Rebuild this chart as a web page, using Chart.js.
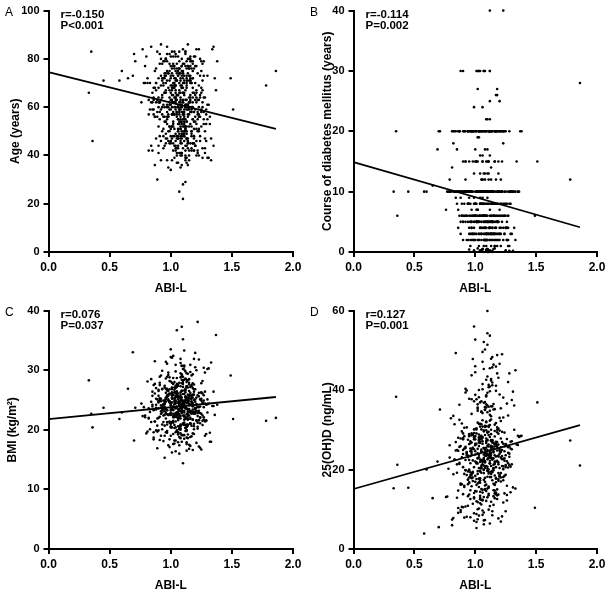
<!DOCTYPE html>
<html>
<head>
<meta charset="utf-8">
<script src="https://cdn.jsdelivr.net/npm/chart.js@4.4.1/dist/chart.umd.min.js"></script>
<style>
  body { margin: 0; background: #fff; width: 609px; height: 597px; overflow: hidden; position: relative; }
  canvas { position: absolute; }
</style>
</head>
<body>
<canvas id="cA" width="305" height="300" style="left:0;top:0"></canvas>
<canvas id="cB" width="304" height="300" style="left:305px;top:0"></canvas>
<canvas id="cC" width="305" height="297" style="left:0;top:300px"></canvas>
<canvas id="cD" width="304" height="297" style="left:305px;top:300px"></canvas>
<script>
// -------------------------------------------------------------------
// Data (one entry per patient, same order in every array)
// -------------------------------------------------------------------
const abiL = [
  0.33,0.35,0.36,0.45,0.58,0.60,0.65,0.69,0.70,0.71,1.49,1.51,1.78,1.86,
  1.08,0.97,1.12,1.03,1.21,0.91,1.15,1.06,0.99,1.27,1.10,0.88,1.04,1.18,1.13,0.95,1.09,1.23,1.01,0.84,
  1.07,1.16,0.93,1.11,1.02,1.30,0.98,1.14,1.05,0.90,1.19,1.08,1.25,0.96,1.12,1.00,1.17,0.86,1.10,1.06,
  1.22,0.94,1.03,1.13,0.81,1.09,1.15,0.99,1.20,1.04,1.11,0.92,1.07,1.28,1.01,1.16,0.97,1.12,1.05,1.34,
  0.89,1.10,1.18,1.02,1.24,0.95,1.08,1.14,0.78,1.06,1.21,1.00,1.13,0.93,1.09,1.17,1.04,1.26,0.98,1.11,
  1.15,0.87,1.05,1.19,1.03,1.12,0.96,1.32,1.07,1.10,0.91,1.16,1.01,1.23,1.08,0.99,1.14,0.85,1.06,1.20,
  1.09,1.02,1.27,0.94,1.13,1.05,1.18,0.97,1.11,1.00,1.22,0.90,1.08,1.15,1.04,1.29,0.96,1.12,1.07,0.82,
  1.17,1.03,0.93,1.10,1.25,1.06,0.99,1.14,1.01,1.20,0.88,1.09,1.16,1.05,0.95,1.12,1.36,1.02,1.08,1.19,
  0.98,1.13,1.04,0.86,1.11,1.23,1.07,0.92,1.15,1.00,1.10,1.28,0.97,1.06,1.18,1.03,0.80,1.14,1.09,1.21,
  1.05,0.95,1.12,1.17,1.01,1.26,0.91,1.08,1.13,0.99,1.24,1.04,1.10,0.87,1.16,1.07,1.31,0.96,1.11,1.02,
  1.19,1.06,0.94,1.14,1.09,0.83,1.21,1.03,1.12,0.98,1.15,1.00,1.27,1.08,0.90,1.13,1.05,1.18,0.97,1.10,
  1.04,1.22,0.93,1.11,1.07,1.16,0.89,1.02,1.25,1.09,0.96,1.14,1.01,1.20,1.06,0.85,1.12,1.33,0.99,1.08,
  1.15,1.03,0.92,1.17,1.10,1.05,1.29,0.98,1.13,0.76,1.08,1.19,1.00,1.23,0.94,1.11,1.06,1.16,1.02,0.88,
  1.12,0.97,1.09,1.24,1.04,1.14,0.91,1.07,1.18,1.01,1.30,0.95,1.10,1.05,1.21,0.86,1.13,1.08,0.99,1.26,
  1.06,1.17,0.93,1.11,1.02,1.15,1.38,0.97,1.09,1.20,1.04,0.90,1.13,1.07,1.28,0.98,1.16,1.01,1.22,0.84,
  1.10,1.03,1.19,0.95,1.08,1.14,1.00,1.25,0.92,1.12,1.05,1.17,0.87,1.09,1.23,1.02,1.15,0.96,1.11,1.35,
  1.07,0.99,1.13,1.04,1.21,0.89,1.16,1.06,1.10,0.94,1.27,1.01,1.18,1.08,0.79,1.12,1.03,1.20,0.97,1.14,
  1.05,1.24,0.91,1.09,1.15,1.00,1.32,1.11,0.96,1.07,1.19,1.02,0.85,1.13,1.26,1.04,1.10,0.93,1.17,1.08,
  1.22,0.98,1.12,1.06,0.88,1.16,1.03,1.29,1.09,0.95,1.14,1.01,1.21,1.07,0.90,1.11,1.18,1.05,0.82,1.13,
  1.00,1.25,1.08,0.94,1.15,1.04,1.19,0.97,1.10,1.37,1.06,0.92,1.13,1.02,1.23,1.09,0.86,1.17,1.03,1.12,
  1.07,0.99,1.20,1.05,1.14,0.91,1.28,1.10,1.01,1.16,0.96,1.08,1.24,1.04,0.89,1.11,1.18,1.06,0.77,1.15,
  1.03,1.14,0.96,1.09,1.21,1.00,1.12,0.87,1.17,1.06,1.25,0.93,1.10,1.02,1.19,1.08,0.98,1.30,1.05,1.13,
  0.92,1.11,1.04,1.18,1.07,0.99,1.23,1.13,0.84,1.09,1.16,1.01,1.27,1.06,0.95,1.12,1.20,1.03,1.10,0.90,
  1.15,1.05,1.22,0.97,1.08,1.13,0.89,1.18,1.02,1.11,0.94,1.26,1.07,1.00,1.16,1.09,0.81,1.14,1.04,1.21,
  1.10,0.95,1.17,1.06,1.31,1.01,1.12,0.91,1.19,1.04,1.08,1.24,0.98,1.14,1.03,0.86,1.11,1.07,1.28,0.99,
  1.06,1.20,1.02,1.13,0.93,1.09,1.16,1.00,1.23,1.05,0.88,1.11,1.18,0.97,1.08,1.33,1.04,1.15,0.92,1.12,
  1.01,1.09,1.26,0.96,1.14,1.07,1.19,0.83,1.11,1.03,1.22,1.10,0.99,1.16,1.05,0.94,1.13,1.08,1.29,1.00,
  1.18,1.04,0.90,1.12,1.07,1.24,0.98,1.15,1.02,1.10,0.87,1.20,1.06,1.13,0.95,1.09,1.17,1.01,0.79,1.14,
  1.08,0.97,1.13,1.21,1.04,1.11,0.92,1.16,1.06,1.27,1.00,1.09,0.85,1.14,1.19,1.03,1.12,0.96,1.23,1.07,
  1.12,1.02,1.17,0.94,1.10,1.05,1.30,0.99,1.15,1.08,1.20,0.90,1.13,1.04,1.25,1.11,0.97,1.06,1.18,1.35,
  0.96,1.14,1.07,1.01,1.22,1.09,0.88,1.16,1.03,1.12,0.95,1.19,1.05,1.10,0.82,1.26,1.00,1.13,1.08,1.17
];

const ageYears = [
  66,83,46,71,71,75,72,73,82,79,72,59,69,75,
  62,71,55,48,66,58,73,60,52,64,57,76,63,45,69,54,61,50,67,44,
  59,65,78,53,70,61,56,47,74,62,58,51,68,80,60,66,43,57,72,55,
  63,69,57,76,72,49,60,64,54,81,59,73,66,47,52,62,85,40,58,84,
  30,63,55,68,48,74,56,61,70,53,67,59,39,65,77,50,62,71,46,58,
  64,56,71,45,60,52,67,53,79,62,48,70,57,63,35,75,59,66,51,44,
  58,65,53,61,72,47,60,82,55,69,42,64,51,76,60,57,54,38,67,63,
  49,62,57,68,59,73,45,56,63,70,62,54,80,58,66,29,72,52,61,47,
  60,54,66,63,48,57,70,86,62,51,74,43,58,65,55,77,81,60,41,64,
  56,72,61,52,68,62,55,64,50,59,73,46,66,75,58,53,61,49,70,57,
  66,60,51,57,75,59,53,69,63,56,38,72,58,48,68,61,78,62,55,52,
  64,57,60,49,62,71,58,54,66,60,47,74,65,56,43,62,67,38,71,59,
  52,76,63,60,57,65,59,50,79,62,66,54,61,69,56,73,48,63,58,70,
  60,53,68,56,72,46,62,57,64,83,55,60,28,65,51,59,70,54,62,67,
  61,58,71,65,53,60,79,56,47,63,67,52,59,74,64,57,45,69,55,62,
  22,64,58,66,55,61,73,52,59,77,63,50,56,68,60,45,62,70,57,85,
  25,67,54,59,62,56,71,65,58,48,55,60,68,63,77,52,70,59,61,36,
  57,65,62,53,60,77,56,66,73,58,51,62,59,47,60,69,55,64,42,72,
  58,74,61,50,67,64,57,53,69,56,86,62,46,59,60,54,66,71,57,63,
  63,58,52,70,57,64,48,60,66,67,55,80,61,73,56,50,64,59,68,44,
  54,61,65,58,71,78,50,62,57,53,66,60,64,69,63,56,72,47,84,59,
  72,45,80,41,77,48,83,36,70,44,79,50,74,42,81,47,68,39,76,52,
  46,78,43,75,49,82,40,71,85,45,73,38,79,47,66,42,77,51,84,44,
  80,41,74,47,69,37,83,45,78,50,72,43,76,34,81,48,70,46,75,40,
  43,79,48,73,39,76,51,82,42,71,46,80,35,77,44,68,50,74,41,78,
  75,44,81,49,72,40,77,46,84,43,70,52,79,38,74,47,82,42,69,50,
  47,73,39,80,45,76,42,70,48,83,41,75,50,72,37,79,44,71,46,81,
  78,42,72,51,83,46,74,40,77,49,68,44,81,47,73,36,76,52,70,43,
  41,75,47,84,44,71,38,79,50,73,45,77,42,80,48,69,39,74,51,76,
  82,48,70,43,78,40,73,52,76,45,81,41,68,49,75,46,79,37,72,44,
  45,77,41,74,50,80,47,71,39,83,44,76,48,70,42,78,46,73,40,79
];

const diabetesCourse = [
  10,20,6,10,10,10,11,17,20,20,6,15,12,28,
  5,10,40,3,8,20,0.5,6,2,10,13,30,20,1,5,8,0.2,4,10,20,
  2,6,10,20,5,3,15,0,8,30,10,4,20,6,3,17,2,10,9,0.5,
  10,5,30,2,14,20,6,0.3,3,8,10,12,1,10,5,20,7,30,4,15,
  8,3,20,5,6,0.4,10,2,10,24,4,8,20,6,1,12,10,5,3,0,
  10,6,3,15,20,7,2,4,5,22,10,0.6,8,40,3,13,20,17,6,2,
  4,10,1,20,8,5,27,6,0.2,3,10,2,20,5,9,10,8,16,0,18,
  6,2,10,8,0.3,15,20,3,5,10,9,6,1,20,4,25,10,7,2,5,
  20,10,4,7,3,6,10,15,2,8,0.5,20,5,12,10,30,10,4,6,1,
  10,3,6,20,5,8,20,2,10,24,3,13,0,20,4,5,0.2,10,15,6,
  3,20,8,5,10,10,20,1,4,6,10,2,6,17,5,3,20,8,10,0.4,
  30,5,2,12,8,3,6,10,10,22,5,20,3,7,16,10,5,2,9,10,
  6,20,5,26,3,0.3,8,10,20,7,4,10,6,2,8,15,10,5,19,3,
  10,4,3,20,6,8,10,2,5,15,10,9,6,0.1,10,20,3,12,5,2,
  8,20,6,5,27,10,20,4,2,6,10,5,3,8,0.2,20,15,6,10,9,
  5,10,2,15,20,4,6,8,10,30,3,10,20,5,18,2,6,1,20,10,
  13,5,8,10,20,6,3,0.4,10,8,2,20,26,6,12,4,19,10,3,5,
  2,8,10,15,6,20,10,3,5,10,13,0.6,8,20,4,6,17,10,2,13,
  15,6,20,10,5,8,2,3,20,10,0.2,5,12,30,6,10,3,8,20,6,
  10,4,6,20,3,10,8,5,2,20,15,6,10,30,20,8,4,5,6,22,
  3,8,25,20,10,6,1,5,10,15,20,2,6,4,10,8,20,0.5,10,3,
  5,10,20,2,8,6,0.3,20,3,10,4,10,15,5,20,8,2,10,6,1,
  20,4,10,6,30,3,8,12,10,5,2,20,6,9,10,20,3,5,0.5,10,
  8,3,10,20,5,14,10,2,7,20,10,4,6,15,1,10,20,5,8,3,
  10,6,4,20,10,5,2,8,10,16,6,3,20,10,5,10,20,4,8,2,
  4,20,10,5,10,3,8,6,20,0.2,10,13,5,20,2,10,6,10,15,5,
  30,6,2,10,5,20,10,20,8,3,6,10,4,20,10,2,5,30,10,8,
  5,10,20,4,6,10,3,8,15,2,10,20,6,10,20,0.4,4,7,10,10,
  10,20,3,6,8,5,10,20,12,4,6,2,10,8,5,20,10,3,20,6,
  2,10,8,20,5,12,10,6,3,20,4,15,10,0.3,6,10,2,8,5,10,
  10,5,6,15,20,3,10,8,20,4,10,6,5,10,10,2,20,6,4,20
];

const bmi = [
  28.3,22.7,20.4,23.7,21.8,22.9,26.9,33.0,18.2,23.7,29.1,21.8,21.5,22.0,
  24.1,22.6,26.3,20.8,25.4,27.9,23.2,19.6,24.8,22.1,30.2,23.7,21.4,25.9,18.7,24.5,28.4,22.9,26.1,21.3,
  23.5,27.2,20.9,24.6,22.3,25.1,29.6,21.8,23.9,26.7,19.3,24.2,22.7,31.4,25.6,20.4,23.1,27.5,24.9,21.6,
  25.8,22.4,24.3,17.9,28.1,23.6,26.5,21.2,24.7,22.8,33.3,25.2,20.1,24.4,27.0,23.0,19.8,25.5,22.5,24.0,
  21.9,26.0,23.4,28.7,22.0,24.9,20.6,25.3,23.8,27.4,21.5,24.1,16.5,26.8,23.3,29.1,22.2,24.6,25.7,19.1,
  24.3,27.7,22.9,25.0,20.3,23.7,26.2,18.0,24.5,22.4,28.9,21.1,25.4,23.2,31.9,24.8,20.7,26.4,22.6,25.1,
  23.0,25.9,21.7,24.2,27.3,22.1,23.9,19.5,26.6,24.4,22.8,25.7,20.2,23.5,29.8,21.6,24.7,26.9,17.4,23.6,
  25.5,22.3,24.0,20.9,26.3,23.4,28.2,21.9,24.6,22.7,25.2,30.8,23.1,19.9,24.3,26.7,22.5,25.8,23.7,21.0,
  24.9,20.5,26.1,23.3,22.2,25.6,18.8,24.1,27.6,22.9,23.8,26.4,21.3,24.5,29.3,22.6,19.4,25.0,23.6,24.2,
  26.2,23.1,21.8,24.8,27.9,22.4,25.3,20.0,23.5,26.8,22.1,24.7,35.2,21.4,25.9,23.2,24.4,28.6,20.8,23.9,
  22.7,25.1,24.3,19.2,26.5,23.0,21.6,27.1,24.0,22.5,25.7,20.6,23.8,26.3,24.6,17.6,22.9,25.4,23.3,28.0,
  23.6,21.2,26.9,24.5,22.0,25.2,19.7,23.4,27.8,24.9,21.9,23.1,32.1,22.8,25.6,24.2,20.3,18.0,26.0,24.7,
  25.3,22.2,24.8,20.7,27.2,23.7,21.5,25.9,22.6,24.4,29.5,23.0,19.0,26.2,24.1,22.4,25.5,21.1,23.9,27.0,
  24.0,26.6,22.8,25.1,20.4,23.5,27.5,24.3,21.7,25.8,22.9,15.3,24.6,26.4,23.2,19.6,25.0,22.3,28.8,24.5,
  21.8,25.7,23.3,26.0,22.1,24.8,24.2,20.9,37.3,23.6,25.4,22.0,27.3,24.1,21.4,26.5,23.0,25.2,20.2,24.7,
  14.4,23.8,26.8,22.5,25.0,28.3,21.0,24.9,23.1,19.8,25.6,22.7,26.1,24.3,21.6,27.7,23.4,25.3,22.9,24.0,
  22.4,24.6,20.5,26.3,23.7,25.1,30.9,22.8,24.2,21.3,25.8,23.5,27.0,19.4,22.1,24.9,26.7,23.0,25.5,21.7,
  26.4,23.9,22.2,25.0,16.8,24.4,19.5,23.2,26.9,22.6,24.1,21.5,25.7,23.6,20.8,27.4,24.8,22.9,25.2,31.2,
  38.1,22.5,24.7,26.1,23.4,21.0,25.3,19.3,24.0,27.1,22.3,25.8,23.1,20.6,26.5,24.2,22.8,36.7,22.0,24.5,
  23.7,26.2,21.9,24.9,22.4,25.6,20.1,23.3,27.7,35.9,24.6,22.7,25.1,21.2,23.8,26.6,18.4,24.3,22.1,25.4,
  24.8,21.4,23.6,27.2,22.6,25.0,19.0,24.2,26.3,22.9,23.5,25.9,21.1,24.4,20.7,28.4,23.0,25.6,22.3,24.1,
  18.2,29.4,19.6,30.7,17.8,28.1,20.3,31.5,18.9,27.6,16.7,29.9,19.1,32.4,20.6,28.8,17.4,30.2,19.8,27.2,
  29.1,18.5,30.9,19.4,27.9,17.1,31.8,20.0,28.5,18.0,29.7,16.2,30.4,19.2,27.4,20.8,32.9,17.7,28.3,19.9,
  17.5,28.7,20.5,31.1,18.6,29.5,16.9,27.8,19.3,30.6,18.1,28.2,20.2,33.5,17.3,29.0,19.7,27.1,16.4,30.0,
  28.9,19.0,27.5,17.9,30.3,20.4,28.6,18.3,31.9,19.6,27.3,17.0,29.2,20.9,28.0,18.7,30.8,16.0,29.6,18.4,
  19.5,30.5,17.6,28.4,20.1,29.3,18.8,32.2,17.2,27.7,19.9,30.1,16.6,28.9,20.7,31.3,18.2,27.9,19.0,29.8,
  26.8,23.2,21.5,25.4,22.9,24.5,27.6,20.1,23.9,25.0,22.3,24.8,26.1,21.8,27.4,23.5,20.9,25.6,24.2,22.6,
  21.7,24.9,23.6,26.6,20.2,22.8,25.1,28.5,23.3,24.0,21.4,26.8,22.1,25.5,23.8,19.1,24.6,27.1,22.4,25.9,
  23.1,25.8,22.0,24.3,27.0,21.2,23.7,26.2,20.6,24.9,22.5,25.4,23.9,18.6,26.4,24.7,22.2,25.1,21.6,24.0,
  25.0,22.7,27.3,23.4,21.1,26.0,24.3,22.6,25.7,20.9,23.5,24.8,28.0,22.3,25.2,21.7,26.9,23.0,24.5,26.4,
  22.8,24.6,25.5,21.3,23.9,27.8,24.2,22.0,26.3,23.6,20.7,25.9,22.5,24.4,21.9,26.1,23.3,19.8,25.3,24.1
];

const vitD = [
  15.3,38.3,21.2,15.4,3.9,20.0,12.8,22.0,5.5,35.1,10.4,36.9,27.3,21.0,
  24.3,18.6,31.2,20.4,27.8,15.9,36.5,22.1,12.7,25.6,29.3,9.8,19.5,44.2,23.7,28.4,16.2,33.1,21.8,26.9,
  17.4,25.8,30.6,13.9,22.9,27.1,19.2,48.3,24.6,10.5,21.3,35.7,26.2,18.1,23.5,14.6,39.8,28.0,20.7,32.4,
  22.6,27.5,16.8,25.1,7.4,30.9,20.3,37.2,24.0,13.4,28.7,19.9,52.1,23.2,17.6,26.4,34.0,21.5,11.2,26.3,
  29.6,19.7,24.8,35.3,18.4,22.4,15.1,27.3,20.2,41.5,23.0,16.9,28.9,24.4,12.1,31.7,21.9,13.6,25.5,19.0,
  26.7,32.5,21.0,17.2,28.1,23.9,14.8,36.1,20.0,54.3,25.3,18.5,30.4,22.7,16.0,27.6,45.7,24.9,8.6,29.8,
  20.9,24.1,33.6,16.3,26.0,12.4,22.2,29.1,19.4,38.8,23.4,27.9,17.9,25.2,31.5,14.3,21.6,24.7,6.2,18.8,
  27.0,15.6,23.6,34.4,20.6,26.5,13.0,22.8,30.1,18.3,25.9,42.6,21.4,28.5,16.6,24.2,28.2,19.6,35.0,23.3,
  18.0,27.2,22.5,9.1,31.0,20.1,25.4,39.4,16.4,23.8,59.9,21.1,26.8,14.9,29.4,23.1,32.9,19.3,24.5,17.0,
  25.0,19.8,33.8,22.0,16.1,27.7,30.5,20.8,47.9,14.1,24.6,28.3,18.2,25.7,21.7,36.8,15.5,26.6,23.6,11.8,
  29.0,21.3,17.5,25.8,23.4,31.4,19.1,27.4,40.9,22.3,13.3,26.1,20.5,30.7,24.9,18.9,34.6,15.0,28.6,22.6,
  16.7,26.9,24.2,20.0,29.9,14.0,23.1,31.8,18.7,25.5,8.0,22.7,37.7,20.4,27.1,12.9,45.5,15.2,29.2,23.9,
  21.2,28.8,25.4,17.7,51.4,22.4,27.0,19.4,33.4,13.1,24.3,30.3,18.4,26.5,10.9,23.0,21.9,29.7,16.5,27.8,
  24.1,19.0,35.6,22.8,26.7,17.3,28.4,21.0,30.0,5.3,25.1,16.8,23.7,20.3,32.2,14.7,27.3,22.1,56.0,26.0,
  30.8,23.3,18.6,26.3,21.5,46.4,28.5,15.8,24.0,33.0,19.6,27.6,22.9,7.2,25.8,17.1,31.3,21.7,29.5,24.8,
  20.2,25.9,23.5,28.9,16.9,22.5,30.2,26.4,19.8,53.7,24.5,13.8,21.4,27.2,18.1,34.8,22.8,25.3,15.7,26.2,
  23.8,28.1,20.9,17.8,25.6,31.6,22.0,49.6,27.5,19.5,24.2,14.5,30.6,21.8,26.1,23.2,38.2,18.3,25.0,9.5,
  27.9,22.2,18.9,26.7,20.4,24.6,30.0,13.5,23.4,29.6,17.6,25.2,21.3,32.6,12.2,27.0,19.7,24.0,41.1,22.0,
  49.0,25.4,21.6,28.0,16.2,23.6,26.8,20.7,32.1,18.0,27.3,6.8,24.4,22.6,29.1,15.4,25.7,20.6,33.5,23.1,
  26.5,21.1,28.7,17.4,24.3,30.8,19.1,23.9,26.0,28.4,14.2,22.4,25.6,36.4,20.8,31.9,24.7,17.9,27.7,21.6,
  22.9,30.1,25.1,19.2,27.4,15.6,24.0,43.4,21.7,26.3,18.6,23.5,29.3,20.3,16.3,25.8,12.6,28.2,13.2,24.6,
  8.4,41.2,12.6,38.7,6.9,44.5,10.8,36.3,14.2,47.1,9.5,39.9,13.0,35.6,7.7,50.2,11.4,37.5,15.1,42.8,
  40.3,9.9,36.9,13.5,45.3,7.1,38.1,11.9,49.3,14.6,35.2,8.8,42.0,12.2,37.8,6.4,46.6,10.2,39.3,13.8,
  11.1,37.2,8.2,43.7,14.9,35.9,10.6,48.8,7.5,40.7,13.3,36.6,9.2,52.7,12.8,38.4,6.0,41.9,14.4,35.4,
  36.1,13.7,45.9,9.7,39.6,12.0,34.8,7.9,43.1,11.5,37.0,14.0,47.8,8.5,40.0,10.3,35.8,13.1,44.2,9.0,
  12.4,38.9,10.0,42.4,8.1,36.4,14.7,46.0,11.7,34.5,9.3,41.3,13.6,37.7,7.3,45.0,12.9,35.1,10.7,39.7,
  21.5,27.8,15.9,24.6,35.9,19.9,26.3,22.6,30.7,17.7,24.9,29.4,20.6,16.3,27.6,23.1,18.1,31.0,25.3,22.0,
  26.1,17.3,23.9,32.3,19.1,25.8,28.7,14.8,22.8,27.3,21.7,18.6,34.2,24.3,20.0,29.9,16.8,26.5,23.0,19.7,
  20.4,24.4,30.0,18.0,27.7,22.9,25.7,16.1,40.2,21.6,28.4,24.1,19.2,26.8,13.7,31.5,22.2,27.1,17.3,25.4,
  28.2,18.9,26.4,23.5,15.2,30.1,21.3,25.1,19.8,35.1,24.7,20.6,27.4,12.5,23.6,29.5,17.8,22.4,26.9,28.5,
  19.3,25.6,22.3,29.1,20.9,24.3,16.5,28.3,23.7,18.1,26.4,21.8,31.4,24.9,7.8,22.1,27.6,19.4,25.0,20.6
];

// regression line end points (x = ABI-L)
const regX      = [0, 1.86];
const regAge    = [74.5, 51.0];
const regCourse = [14.9, 4.1];
const regBmi    = [21.8, 25.5];
const regVitD   = [15.1, 31.2];

const xTicks = [0, 0.5, 1.0, 1.5, 2.0];

// -------------------------------------------------------------------
// Chart helpers
// -------------------------------------------------------------------
const FONT = '"Liberation Sans", Arial, Helvetica, sans-serif';
Chart.defaults.font.family = FONT;
Chart.defaults.color = "#000";

function pts(ys) {
  const n = Math.min(abiL.length, ys.length);
  const out = [];
  for (let i = 0; i < n; i++) out.push({ x: abiL[i], y: ys[i] });
  return out;
}

function regLine(ys) {
  return regX.map((x, i) => ({ x: x, y: ys[i] }));
}

function makePanel(id, p) {
  const overlay = {
    id: "overlay",
    afterDraw(chart) {
      const ctx = chart.ctx;
      const a = chart.chartArea;
      ctx.save();
      ctx.fillStyle = "#000";
      ctx.textBaseline = "middle";
      ctx.textAlign = "left";
      ctx.font = "12px " + FONT;
      ctx.fillText(p.letter, 5, a.top + 2.5);
      ctx.font = "bold 11.5px " + FONT;
      ctx.fillText(p.stats[0], a.left + 12, a.top + 4);
      ctx.fillText(p.stats[1], a.left + 12, a.top + 15);
      ctx.restore();
    }
  };

  new Chart(document.getElementById(id), {
    type: "scatter",
    data: {
      datasets: [
        {
          data: regLine(p.reg),
          showLine: true,
          borderColor: "#000",
          borderWidth: 1.8,
          pointRadius: 0,
          fill: false
        },
        {
          data: pts(p.values),
          backgroundColor: "#000",
          borderWidth: 0,
          pointRadius: 1.3,
          clip: false
        }
      ]
    },
    options: {
      responsive: false,
      animation: false,
      layout: { padding: { left: 0, right: 12, top: 9.5, bottom: 0 } },
      plugins: { legend: { display: false }, tooltip: { enabled: false } },
      scales: {
        x: {
          type: "linear",
          min: 0, max: 2,
          afterBuildTicks: s => { s.ticks = xTicks.map(v => ({ value: v })); },
          afterFit: s => { s.height = 48; },
          border: { display: true, color: "#000", width: 2 },
          grid: { display: true, drawOnChartArea: false, drawTicks: true, tickLength: 5, color: "#000", lineWidth: 2 },
          ticks: { padding: 3, font: { size: 12, weight: "bold" }, callback: v => Number(v).toFixed(1) },
          title: { display: true, text: "ABI-L", font: { size: 12, weight: "bold" }, padding: { top: 4, bottom: 4 } }
        },
        y: {
          type: "linear",
          min: 0, max: p.yMax,
          ticks: { stepSize: p.yStep, padding: 4, font: { size: 11, weight: "bold" } },
          afterFit: s => { s.width = 48.5; },
          border: { display: true, color: "#000", width: 2 },
          grid: { display: true, drawOnChartArea: false, drawTicks: true, tickLength: 5, color: "#000", lineWidth: 2 },
          title: { display: true, text: p.yTitle, font: { size: 12, weight: "bold" }, padding: { top: p.titlePad, bottom: 2 } }
        }
      }
    },
    plugins: [overlay]
  });
}

// -------------------------------------------------------------------
// Panels
// -------------------------------------------------------------------
makePanel("cA", { letter: "A", values: ageYears, reg: regAge, yMax: 100, yStep: 20,
  yTitle: "Age (years)", titlePad: 8, stats: ["r=-0.150", "P<0.001"] });
makePanel("cB", { letter: "B", values: diabetesCourse, reg: regCourse, yMax: 40, yStep: 10,
  yTitle: "Course of diabetes mellitus (years)", titlePad: 15, stats: ["r=-0.114", "P=0.002"] });
makePanel("cC", { letter: "C", values: bmi, reg: regBmi, yMax: 40, yStep: 10,
  yTitle: "BMI (kg/m\u00B2)", titlePad: 5, stats: ["r=0.076", "P=0.037"] });
makePanel("cD", { letter: "D", values: vitD, reg: regVitD, yMax: 60, yStep: 20,
  yTitle: "25(OH)D (ng/mL)", titlePad: 15, stats: ["r=0.127", "P=0.001"] });
</script>
</body>
</html>
